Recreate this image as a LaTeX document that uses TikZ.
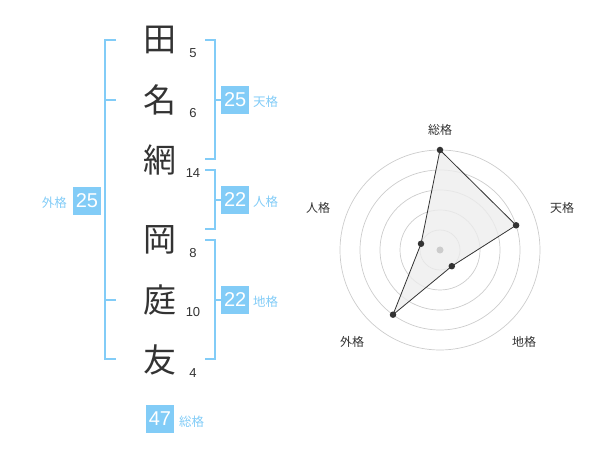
\documentclass[tikz,border=0pt]{standalone}
\usepackage{fontspec}
\setmainfont{Liberation Sans}
\newfontfamily\jp{Noto Sans CJK JP}
\definecolor{sky}{HTML}{82CCF7}
\definecolor{ink}{HTML}{333333}
\definecolor{ring}{HTML}{CCCCCC}
\tikzset{
  kanji/.style={font=\jp\fontsize{33}{33}\selectfont, text=ink, inner sep=0pt},
  stroke/.style={font=\fontsize{13}{13}\selectfont, text=ink, inner sep=0pt},
  bracket/.style={draw=sky, line width=2pt},
  valbox/.style={fill=sky, text=white, font=\fontsize{20}{20}\selectfont, minimum width=28pt, minimum height=28pt, inner sep=0pt},
  kaku/.style={text=sky, font=\jp\fontsize{12.5}{12.5}\selectfont, inner sep=0pt},
  axislabel/.style={text=ink, font=\jp\fontsize{12}{12}\selectfont, inner sep=0pt},
  dot/.style={circle, fill=ink, inner sep=0pt, minimum size=6.5pt},
}
\begin{document}
\begin{tikzpicture}[x=1pt,y=-1pt]
\useasboundingbox (0,0) rectangle (600,470);
% characters
\node[kanji] (k1) at (160,40) {田};
\node[kanji] (k2) at (160,100) {名};
\node[kanji] (k3) at (160,160) {網};
\node[kanji] (k4) at (160,240) {岡};
\node[kanji] (k5) at (160,300) {庭};
\node[kanji] (k6) at (160,360) {友};
\node[stroke] (n1) at (193,53) {5};
\node[stroke] (n2) at (193,113) {6};
\node[stroke] (n3) at (193,173) {14};
\node[stroke] (n4) at (193,253) {8};
\node[stroke] (n5) at (193,312) {10};
\node[stroke] (n6) at (193,373) {4};
% left bracket
\draw[bracket] (116,40) -- (105,40) -- (105,359) -- (116,359);
\draw[bracket] (105,100) -- (116,100);
\draw[bracket] (105,300) -- (116,300);
\node[valbox] (gai) at (87,201) {25};
\node[kaku, anchor=east] (gait) at (67,203) {外格};
% right brackets
\draw[bracket] (205,40) -- (215,40) -- (215,159) -- (205,159);
\draw[bracket] (215,100) -- (221,100);
\node[valbox, anchor=west] (ten) at (221,100) {25};
\node[kaku, anchor=west] (tent) at (253,102) {天格};
\draw[bracket] (205,170) -- (215,170) -- (215,229) -- (205,229);
\draw[bracket] (215,200) -- (221,200);
\node[valbox, anchor=west] (jin) at (221,200) {22};
\node[kaku, anchor=west] (jint) at (253,202) {人格};
\draw[bracket] (205,240) -- (215,240) -- (215,359) -- (205,359);
\draw[bracket] (215,300) -- (221,300);
\node[valbox, anchor=west] (chi) at (221,300) {22};
\node[kaku, anchor=west] (chit) at (253,302) {地格};
\node[valbox] (sou) at (160,419) {47};
\node[kaku, anchor=west] (sout) at (179,422) {総格};
% radar chart
\coordinate (c) at (440,250);
\foreach \r in {20,40,60,80,100} \draw[ring, line width=0.7pt] (c) circle[radius=\r];
\coordinate (pa) at (440,150);
\coordinate (pb) at (516.1,225.3);
\coordinate (pc) at (451.8,266.2);
\coordinate (pd) at (393.0,314.7);
\coordinate (pe) at (421.0,243.8);
\fill[black!7, opacity=0.8] (pa) -- (pb) -- (pc) -- (pd) -- (pe) -- cycle;
\draw[ink, line width=0.8pt] (pa) -- (pb) -- (pc) -- (pd) -- (pe) -- cycle;
\fill[ring] (c) circle[radius=3.5];
\foreach \p in {pa,pb,pc,pd,pe} \node[dot] at (\p) {};
\node[axislabel] (la) at (440,130) {総格};
\node[axislabel] (lb) at (562,208) {天格};
\node[axislabel] (lc) at (524,342) {地格};
\node[axislabel] (ld) at (352,342) {外格};
\node[axislabel] (le) at (318,208) {人格};
\end{tikzpicture}
\end{document}
